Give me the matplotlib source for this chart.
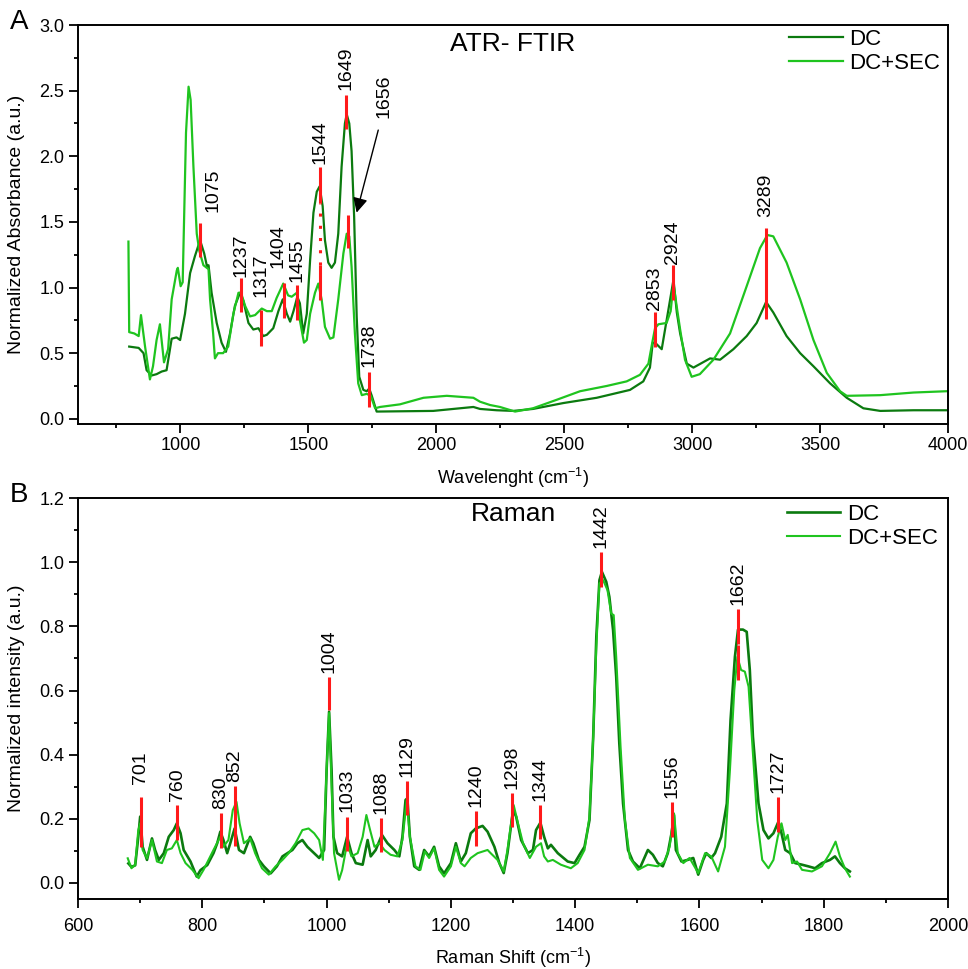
import matplotlib.pyplot as plt
from matplotlib.ticker import MultipleLocator

plt.rcParams['font.family'] = ['Liberation Sans', 'DejaVu Sans']
plt.rcParams['mathtext.fontset'] = 'custom'
plt.rcParams['mathtext.rm'] = 'Liberation Sans'
plt.rcParams['mathtext.it'] = 'Liberation Sans:italic'
plt.rcParams['mathtext.bf'] = 'Liberation Sans:bold'

# ---- ATR-FTIR spectra ----
ftir_x_dc = [800, 837, 856, 868, 888, 907, 927, 946, 966, 985, 999, 1018, 1038, 1057,
             1077, 1093, 1104, 1110, 1122, 1142, 1161, 1178, 1194, 1213, 1233, 1246,
             1266, 1285, 1305, 1324, 1338, 1363, 1383, 1400, 1416, 1429, 1442, 1457,
             1467, 1480, 1494, 1507, 1520, 1533, 1544, 1556, 1565, 1578, 1591, 1604,
             1617, 1630, 1643, 1650, 1660, 1669, 1679, 1689, 1699, 1715, 1728, 1738,
             1748, 1767, 1988, 2145, 2171, 2236, 2301, 2378, 2497, 2627, 2757, 2809,
             2835, 2846, 2855, 2881, 2927, 2940, 2953, 2979, 3005, 3070, 3109, 3161,
             3213, 3252, 3289, 3317, 3369, 3422, 3474, 3539, 3604, 3669, 3735, 3865, 3995]
ftir_dc = [0.55, 0.54, 0.50, 0.37, 0.33, 0.34, 0.36, 0.37, 0.61, 0.62, 0.60, 0.80, 1.11, 1.24,
           1.36, 1.26, 1.16, 1.17, 0.96, 0.73, 0.58, 0.51, 0.65, 0.86, 0.96, 0.90,
           0.73, 0.68, 0.69, 0.63, 0.64, 0.69, 0.82, 0.91, 0.80, 0.74, 0.82, 0.93,
           0.88, 0.65, 0.80, 1.21, 1.57, 1.73, 1.77, 1.62, 1.36, 1.19, 1.15, 1.19,
           1.41, 1.92, 2.25, 2.32, 2.25, 2.04, 1.54, 0.78, 0.32, 0.22, 0.21, 0.23,
           0.175, 0.055, 0.06, 0.09, 0.075, 0.065, 0.06, 0.075, 0.12, 0.16, 0.22, 0.285,
           0.39, 0.58, 0.58, 0.53, 1.06, 0.81, 0.65, 0.42, 0.39, 0.46, 0.45, 0.53,
           0.63, 0.73, 0.89, 0.81, 0.63, 0.50, 0.40, 0.27, 0.16, 0.08, 0.06, 0.065, 0.065]

ftir_x_sec = [797, 800, 820, 837, 846, 862, 881, 893, 907, 920, 936, 952, 966, 986, 990,
              1001, 1009, 1022, 1032, 1040, 1051, 1064, 1074, 1090, 1110, 1116, 1128,
              1135, 1147, 1167, 1187, 1207, 1227, 1237, 1253, 1272, 1292, 1318, 1338,
              1357, 1376, 1402, 1421, 1435, 1455, 1467, 1483, 1494, 1507, 1526, 1539,
              1552, 1565, 1585, 1598, 1617, 1637, 1650, 1660, 1669, 1682, 1695, 1709,
              1728, 1744, 1761, 1780, 1858, 1950, 2041, 2145, 2171, 2210, 2249, 2308,
              2378, 2471, 2562, 2666, 2744, 2796, 2829, 2846, 2855, 2868, 2900, 2916,
              2927, 2940, 2953, 2972, 2998, 3030, 3083, 3148, 3213, 3265, 3294, 3317,
              3369, 3422, 3474, 3526, 3578, 3604, 3735, 3865, 3995]
ftir_sec = [1.35, 0.66, 0.65, 0.63, 0.79, 0.55, 0.30, 0.40, 0.60, 0.72, 0.43, 0.53, 0.91, 1.13, 1.15,
            1.01, 1.04, 2.18, 2.53, 2.43, 1.92, 1.41, 1.28, 1.17, 1.14, 0.91, 0.65,
            0.46, 0.50, 0.50, 0.55, 0.80, 0.96, 0.96, 0.86, 0.78, 0.79, 0.84, 0.82,
            0.82, 0.92, 1.03, 0.94, 0.93, 0.96, 0.75, 0.58, 0.60, 0.80, 0.96, 1.03,
            0.91, 0.70, 0.61, 0.62, 0.91, 1.26, 1.41, 1.39, 1.16, 0.65, 0.27, 0.18,
            0.19, 0.175, 0.08, 0.09, 0.11, 0.16, 0.175, 0.16, 0.13, 0.105, 0.09, 0.055,
            0.08, 0.145, 0.21, 0.25, 0.285, 0.335, 0.42, 0.60, 0.69, 0.72, 0.73, 0.82,
            1.03, 0.85, 0.68, 0.45, 0.32, 0.34, 0.45, 0.65, 1.01, 1.30, 1.40, 1.39,
            1.19, 0.91, 0.60, 0.35, 0.21, 0.175, 0.18, 0.20, 0.21]

# peak marks: position, bottom, top
ftir_peaks = [1075, 1237, 1317, 1404, 1455, 1649, 1738, 2853, 2924, 3289]
ftir_lo = [1.23, 0.81, 0.556, 0.77, 0.755, 2.21, 0.09, 0.55, 0.905, 0.76]
ftir_hi = [1.49, 1.07, 0.83, 1.035, 1.02, 2.47, 0.36, 0.815, 1.17, 1.455]
ftir_label_off = [(10, 8), (0, 1), (0, 9), (-4, 11), (0, 2), (0, 3), (0, 3), (0, 1), (0, 1), (0, 8)]

# ---- Raman spectra ----
raman_x_dc = [681, 686, 692, 697, 700, 704, 711, 719, 724, 730, 738, 746, 754, 759, 765, 770,
              781, 791, 797, 808, 818, 824, 829, 834, 840, 845, 852, 859, 867, 877, 882,
              891, 899, 910, 920, 929, 937, 945, 953, 961, 969, 980, 988, 996, 1000, 1004,
              1008, 1011, 1017, 1025, 1033, 1040, 1047, 1058, 1066, 1071, 1079, 1089, 1098,
              1109, 1117, 1122, 1127, 1130, 1134, 1141, 1149, 1157, 1165, 1173, 1181, 1189,
              1200, 1208, 1216, 1224, 1232, 1240, 1251, 1259, 1270, 1278, 1285, 1291, 1300,
              1305, 1313, 1324, 1332, 1337, 1344, 1350, 1356, 1361, 1372, 1388, 1399, 1407,
              1415, 1423, 1429, 1434, 1439, 1443, 1450, 1455, 1461, 1466, 1471, 1477, 1485,
              1493, 1504, 1517, 1525, 1533, 1541, 1549, 1555, 1559, 1562, 1571, 1581, 1590,
              1598, 1606, 1611, 1619, 1625, 1635, 1644, 1650, 1657, 1662, 1670, 1676, 1681,
              1686, 1695, 1703, 1711, 1719, 1727, 1732, 1738, 1746, 1754, 1765, 1775, 1786,
              1797, 1810, 1818, 1826, 1834, 1842]
raman_dc = [0.061, 0.05, 0.055, 0.144, 0.207, 0.113, 0.072, 0.139, 0.103, 0.072, 0.093, 0.144,
            0.165, 0.186, 0.155, 0.103, 0.067, 0.02, 0.04, 0.056, 0.093, 0.124, 0.16, 0.134,
            0.093, 0.124, 0.17, 0.103, 0.093, 0.144, 0.124, 0.072, 0.052, 0.03, 0.052, 0.083,
            0.093, 0.103, 0.124, 0.134, 0.113, 0.093, 0.078, 0.103, 0.352, 0.534, 0.352, 0.144,
            0.093, 0.083, 0.144, 0.093, 0.062, 0.057, 0.134, 0.083, 0.103, 0.15, 0.124, 0.103,
            0.083, 0.144, 0.259, 0.264, 0.144, 0.052, 0.041, 0.103, 0.083, 0.113, 0.052, 0.03,
            0.062, 0.124, 0.067, 0.093, 0.155, 0.17, 0.178, 0.16, 0.113, 0.062, 0.031, 0.093,
            0.227, 0.207, 0.134, 0.093, 0.103, 0.165, 0.188, 0.144, 0.108, 0.119, 0.093, 0.067,
            0.062, 0.088, 0.113, 0.196, 0.456, 0.767, 0.944, 0.970, 0.939, 0.892, 0.788, 0.643,
            0.435, 0.248, 0.103, 0.067, 0.046, 0.103, 0.088, 0.062, 0.052, 0.093, 0.155, 0.212,
            0.103, 0.067, 0.072, 0.078, 0.026, 0.072, 0.093, 0.078, 0.093, 0.144, 0.248, 0.508,
            0.705, 0.790, 0.790, 0.783, 0.664, 0.456, 0.248, 0.165, 0.139, 0.155, 0.191, 0.155,
            0.103, 0.093, 0.062, 0.057, 0.052, 0.046, 0.062, 0.072, 0.083, 0.062, 0.046, 0.036]

raman_x_sec = [680, 686, 692, 697, 700, 704, 711, 719, 727, 735, 743, 751, 759, 765, 773, 784,
               794, 802, 810, 818, 829, 834, 842, 849, 855, 860, 867, 877, 885, 896, 907,
               918, 929, 939, 950, 961, 971, 980, 988, 994, 1000, 1004, 1008, 1012, 1020,
               1025, 1033, 1040, 1050, 1058, 1064, 1070, 1077, 1085, 1093, 1103, 1114, 1122,
               1129, 1134, 1143, 1151, 1158, 1165, 1173, 1181, 1189, 1200, 1208, 1216, 1222,
               1232, 1243, 1259, 1264, 1275, 1285, 1291, 1301, 1308, 1316, 1327, 1337, 1345,
               1350, 1356, 1364, 1377, 1393, 1404, 1415, 1423, 1429, 1434, 1439, 1445, 1452,
               1458, 1462, 1466, 1473, 1480, 1488, 1501, 1517, 1533, 1544, 1552, 1559, 1565,
               1574, 1584, 1598, 1609, 1619, 1630, 1641, 1649, 1656, 1661, 1667, 1673, 1679,
               1686, 1693, 1701, 1711, 1719, 1726, 1732, 1738, 1742, 1749, 1757, 1765, 1781,
               1797, 1810, 1819, 1826, 1834, 1842]
raman_sec = [0.077, 0.046, 0.057, 0.165, 0.186, 0.103, 0.077, 0.134, 0.067, 0.062, 0.103, 0.108,
             0.134, 0.093, 0.062, 0.041, 0.015, 0.041, 0.072, 0.103, 0.144, 0.113, 0.134, 0.227,
             0.253, 0.186, 0.124, 0.139, 0.093, 0.046, 0.026, 0.052, 0.072, 0.093, 0.124, 0.165,
             0.17, 0.155, 0.134, 0.072, 0.352, 0.53, 0.3, 0.093, 0.01, 0.04, 0.124, 0.083, 0.093,
             0.144, 0.212, 0.165, 0.113, 0.124, 0.103, 0.088, 0.083, 0.134, 0.259, 0.144, 0.052,
             0.041, 0.098, 0.078, 0.108, 0.041, 0.02, 0.052, 0.113, 0.062, 0.052, 0.078, 0.093,
             0.103, 0.093, 0.072, 0.036, 0.103, 0.243, 0.186, 0.124, 0.078, 0.113, 0.124, 0.083,
             0.067, 0.072, 0.057, 0.046, 0.062, 0.103, 0.207, 0.456, 0.736, 0.934, 0.944, 0.913,
             0.84, 0.835, 0.705, 0.425, 0.196, 0.078, 0.041, 0.057, 0.052, 0.067, 0.113, 0.217,
             0.093, 0.062, 0.078, 0.031, 0.093, 0.083, 0.036, 0.113, 0.352, 0.601, 0.705, 0.664,
             0.659, 0.612, 0.404, 0.196, 0.072, 0.046, 0.072, 0.144, 0.186, 0.134, 0.15, 0.062,
             0.067, 0.041, 0.036, 0.052, 0.093, 0.129, 0.083, 0.046, 0.02]

raman_peaks = [701, 760, 830, 852, 1004, 1033, 1088, 1129, 1240, 1298, 1344, 1442, 1556, 1662, 1727]
raman_lo = [0.113, 0.134, 0.108, 0.115, 0.539, 0.10, 0.096, 0.212, 0.115, 0.175, 0.136, 0.923,
            0.144, 0.746, 0.16]
raman_hi = [0.269, 0.243, 0.217, 0.302, 0.643, 0.207, 0.203, 0.318, 0.224, 0.281, 0.243, 1.031,
            0.253, 0.853, 0.267]

DC_COLOR = '#0b7a0f'
SEC_COLOR = '#1fc41f'
RED = '#ff1a1a'
PEAK_FS = 14

fig = plt.figure(figsize=(9.68, 9.69), dpi=100)
ax1 = fig.add_axes([0.0806, 0.5624, 0.8988, 0.4118])
ax2 = fig.add_axes([0.0806, 0.0722, 0.8988, 0.4138])

# ---------- panel A ----------
ax1.plot(ftir_x_dc, ftir_dc, color=DC_COLOR, lw=1.6, label='DC')
ax1.plot(ftir_x_sec, ftir_sec, color=SEC_COLOR, lw=1.6, label='DC+SEC')
ax1.vlines(ftir_peaks, ftir_lo, ftir_hi, colors=RED, lw=2.2, zorder=5)
for p, hi, off in zip(ftir_peaks, ftir_hi, ftir_label_off):
    ax1.annotate(str(p), xy=(p, hi), xytext=off, textcoords='offset points',
                 rotation=90, ha='center', va='bottom', fontsize=PEAK_FS)

# 1544: solid - dotted - solid
ax1.vlines([1544, 1544], [1.645, 0.905], [1.92, 1.17], colors=RED, lw=2.2, zorder=5)
ax1.plot([1544, 1544], [1.17, 1.645], color=RED, lw=2.2, ls=(0, (1, 3)), zorder=5)
ax1.annotate('1544', xy=(1544, 1.92), xytext=(0, 2), textcoords='offset points',
             rotation=90, ha='center', va='bottom', fontsize=PEAK_FS)
# 1656 with arrow
ax1.vlines([1656], [1.30], [1.55], colors=RED, lw=2.2, zorder=5)
ax1.annotate('', xy=(1686, 1.55), xytext=(1776, 2.22),
             arrowprops=dict(arrowstyle='-|>', color='black', lw=1, mutation_scale=22))
ax1.text(1795, 2.29, '1656', rotation=90, ha='center', va='bottom', fontsize=PEAK_FS)

ax1.set_xlim(600, 4000)
ax1.set_ylim(-0.04, 3.0)
ax1.xaxis.set_major_locator(MultipleLocator(500))
ax1.xaxis.set_minor_locator(MultipleLocator(250))
ax1.yaxis.set_major_locator(MultipleLocator(0.5))
ax1.yaxis.set_minor_locator(MultipleLocator(0.25))
ax1.yaxis.set_major_formatter(plt.FormatStrFormatter('%.1f'))
ax1.tick_params(axis='x', pad=3)
ax1.set_xlabel('Wavelenght (cm$^{-1}$)', fontsize=13)
ax1.set_ylabel('Normalized Absorbance (a.u.)', fontsize=14)
ax1.xaxis.set_label_coords(0.5, -0.105)
ax1.yaxis.set_label_coords(-0.061, 0.5)
ax1.text(0.5, 0.982, 'ATR- FTIR', transform=ax1.transAxes, ha='center', va='top', fontsize=19)
ax1.legend(loc='upper right', bbox_to_anchor=(0.991, 0.99), frameon=False, fontsize=16,
           handlelength=2.4, handletextpad=0.3, labelspacing=0.12, borderpad=0,
           borderaxespad=0)

# ---------- panel B ----------
ax2.plot(raman_x_dc, raman_dc, color=DC_COLOR, lw=1.9, label='DC')
ax2.plot(raman_x_sec, raman_sec, color=SEC_COLOR, lw=1.5, label='DC+SEC')
ax2.vlines(raman_peaks, raman_lo, raman_hi, colors=RED, lw=2.2, zorder=5)
ax2.vlines([1662], [0.632], [0.741], colors=RED, lw=2.2, zorder=5)
for p, hi in zip(raman_peaks, raman_hi):
    dy = 9 if p == 701 else 3
    ax2.annotate(str(p), xy=(p, hi), xytext=(0, dy), textcoords='offset points',
                 rotation=90, ha='center', va='bottom', fontsize=PEAK_FS)

ax2.set_xlim(600, 2000)
ax2.set_ylim(-0.05, 1.2)
ax2.xaxis.set_major_locator(MultipleLocator(200))
ax2.xaxis.set_minor_locator(MultipleLocator(100))
ax2.yaxis.set_major_locator(MultipleLocator(0.2))
ax2.yaxis.set_minor_locator(MultipleLocator(0.1))
ax2.yaxis.set_major_formatter(plt.FormatStrFormatter('%.1f'))
ax2.tick_params(axis='x', pad=7)
ax2.set_xlabel('Raman Shift (cm$^{-1}$)', fontsize=13)
ax2.set_ylabel('Normalized intensity (a.u.)', fontsize=14)
ax2.xaxis.set_label_coords(0.5, -0.117)
ax2.yaxis.set_label_coords(-0.061, 0.5)
ax2.text(0.5, 0.99, 'Raman', transform=ax2.transAxes, ha='center', va='top', fontsize=19)
ax2.legend(loc='upper right', bbox_to_anchor=(0.988, 0.985), frameon=False, fontsize=16,
           handlelength=2.4, handletextpad=0.3, labelspacing=0.12, borderpad=0,
           borderaxespad=0)

for ax in (ax1, ax2):
    for s in ax.spines.values():
        s.set_linewidth(1.4)
    ax.tick_params(which='major', direction='out', length=6.5, width=1.3, labelsize=13)
    ax.tick_params(which='minor', direction='out', length=3, width=1.3)

fig.text(10 / 968, 1 - 22 / 969, 'A', fontsize=20, ha='left', va='center')
fig.text(10 / 968, 1 - 495 / 969, 'B', fontsize=20, ha='left', va='center')

fig.savefig('out.png', dpi=100)
